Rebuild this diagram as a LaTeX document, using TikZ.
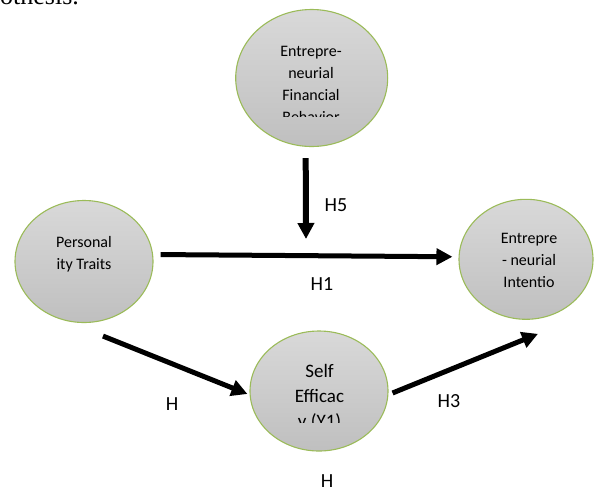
\documentclass[tikz,border=0pt]{standalone}
\usepackage{fontspec}
\setmainfont{Carlito}
\newfontfamily\bodyserif{Liberation Serif}
\usepackage{xcolor}
\usetikzlibrary{arrows.meta, positioning, shapes.geometric}
\definecolor{rimgreen}{HTML}{9BBB59}

\begin{document}
\begin{tikzpicture}[x=1pt, y=-1pt,
    construct/.style={
        ellipse, draw=rimgreen, line width=1.1pt, inner sep=0pt,
        top color=gray!30, bottom color=gray!50
    },
    inner/.style={align=center, inner sep=0pt, font=\fontsize{16}{22}\selectfont},
    arrow/.style={-{Triangle[length=16pt, width=16pt]}, line width=5pt},
    hyp/.style={font=\fontsize{20}{24}\selectfont, inner sep=0pt}
]
\clip (0,0) rectangle (594,491);

% Cut line of the text above
\node[anchor=base west, inner sep=0pt, font=\bodyserif\fontsize{26}{30}\selectfont] (caption) at (0,4) {othesis.};

% Constructs
\node[construct, minimum width=152pt, minimum height=137pt] (fb) at (311.7,78) {};
\node[construct, minimum width=138pt, minimum height=122pt] (pt) at (84,261.5) {};
\node[construct, minimum width=134pt, minimum height=120pt] (ei) at (526,259.3) {};
\node[construct, minimum width=138pt, minimum height=120pt] (se) at (319,391) {};

% Texts inside the constructs
\begin{scope}
    \clip (230,0) rectangle (394,116);
    \node[inner] (fbtext) at (311,84.5) {Entrepre-\\neurial\\Financial\\Behavior};
\end{scope}
\node[inner] (pttext) at (84,254) {Personal\\ity Traits};
\node[inner] (eitext) at (529,260.3) {Entrepre\\- neurial\\Intentio};
\begin{scope}
    \clip (240,330) rectangle (400,422);
    \node[inner, font=\fontsize{19}{25}\selectfont] (setext) at (319.5,397.7) {Self\\Efficac\\y (Y1)};
\end{scope}

% Paths
\coordinate (h5tip) at (306,239);
\draw[arrow, line width=6pt] ([xshift=-6pt, yshift=-11pt]fb.south) -- (h5tip);
\draw[arrow, shorten <=7pt, shorten >=6pt] ([yshift=7pt]pt.east) -- ([yshift=2.5pt]ei.west);
\draw[arrow] ([xshift=19pt, yshift=-13pt]pt.south) -- ([xshift=-2pt, yshift=-3pt]se.west);
\draw[arrow] ([xshift=4pt, yshift=-2pt]se.east) -- ([xshift=12pt, yshift=-14pt]ei.south);

% Hypothesis labels
\node[hyp] (h5) at (336,205) {H5};
\node[hyp] (h1) at (322,284) {H1};
\node[hyp] (h2) at (172,404) {H};
\node[hyp] (h3) at (449,401.5) {H3};
\node[hyp] (h4) at (327,481.5) {H};
\end{tikzpicture}
\end{document}
